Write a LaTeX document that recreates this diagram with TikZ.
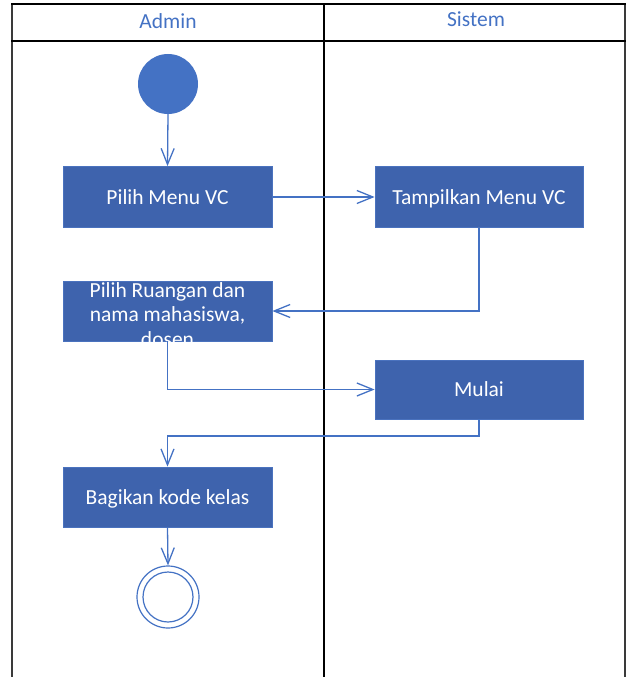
\documentclass[tikz,border=0pt]{standalone}
\usepackage{fontspec}
\setmainfont{Carlito}
\usetikzlibrary{arrows.meta}
\definecolor{ublue}{HTML}{4472C4}
\definecolor{boxfill}{HTML}{3E63AD}
\definecolor{boxline}{HTML}{4A72BE}
\definecolor{frameg}{HTML}{3A3A3A}
\begin{document}
\begin{tikzpicture}[x=1pt,y=-1pt,
  act/.style={rectangle, fill=boxfill, draw=boxline, line width=0.8pt, text=white,
    minimum width=209pt, minimum height=61pt, inner sep=0pt, text height=14pt, text depth=0pt,
    font=\fontsize{21.5}{25}\selectfont},
  flow/.style={draw=ublue, line width=1.3pt, -{Straight Barb[length=16pt,width=13pt,line width=1.3pt]}},
  lane/.style={text=ublue, font=\fontsize{21.5}{25}\selectfont}]
\useasboundingbox (0,0) rectangle (627,677);
% swimlane frame
\draw[frameg, line width=1.8pt] (12,4) -- (12,677);
\draw[frameg, line width=1.8pt] (625,4) -- (625,677);
\draw[black, line width=1.6pt] (324,4) -- (324,677);
\draw[black, line width=2pt] (11,4) -- (626,4);
\draw[black, line width=2.2pt] (11,41) -- (626,41);
\node[lane] (ladmin) at (168,21) {Admin};
\node[lane] (lsistem) at (476,19) {Sistem};
% nodes
\node[circle, fill=ublue, minimum size=60pt, inner sep=0pt] (start) at (168,84) {};
\node[act] (pm) at (167.5,197) {Pilih Menu VC};
\node[act, minimum width=208pt] (tm) at (479,197) {Tampilkan Menu VC};
\node[act, minimum height=60pt] (pr) at (167.5,311) {};
\begin{scope}
\clip (63,281) rectangle (272,341);
\node[text=white, align=center, anchor=north, inner sep=0pt, font=\fontsize{21.5}{24.5}\selectfont] (prtext) at (167.5,282)
  {Pilih Ruangan dan\\nama mahasiswa,\\dosen};
\end{scope}
\node[act, minimum width=208pt, minimum height=59pt] (mu) at (479,389.5) {Mulai};
\node[act, minimum height=60pt] (bk) at (167.5,497) {Bagikan kode kelas};
\node[circle, draw=ublue, fill=white, line width=1.2pt, minimum size=62pt, inner sep=0pt] (end) at (168,597) {};
\node[circle, draw=ublue, line width=1.2pt, minimum size=50pt, inner sep=0pt] (endin) at (end.center) {};
% connectors
\draw[flow] (start.south) -- (pm.north);
\draw[flow] (pm.east) -- (tm.west);
\draw[flow] (tm.south) |- (pr.east);
\draw[flow] (pr.south) |- (mu.west);
\coordinate (bend) at (479,436);
\draw[flow] (mu.south) -- (bend) -| (bk.north);
\draw[flow] (bk.south) -- (end.north);
\end{tikzpicture}
\end{document}
